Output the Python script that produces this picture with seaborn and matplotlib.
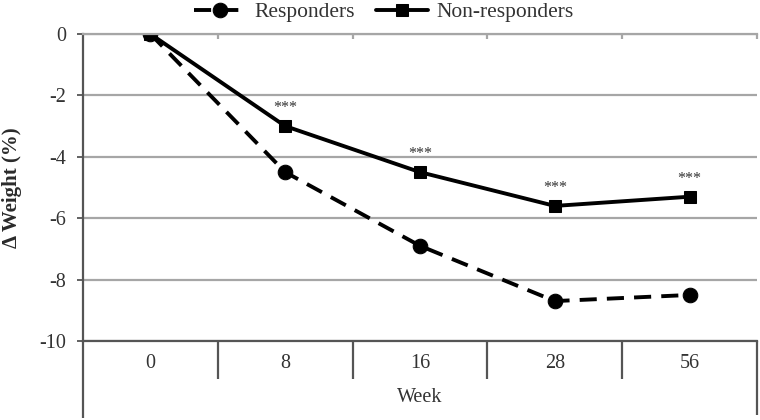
import numpy as np
import pandas as pd
import matplotlib
matplotlib.use("Agg")
import matplotlib.pyplot as plt
import seaborn as sns

weeks = ["0", "8", "16", "28", "56"]
responders = [0.0, -4.5, -6.9, -8.7, -8.5]
non_responders = [0.0, -3.0, -4.5, -5.6, -5.3]
stars = ["", "***", "***", "***", "***"]
yticks = [0, -2, -4, -6, -8, -10]

sns.set_theme(style="white")
plt.rcParams["font.family"] = ["Liberation Serif", "DejaVu Serif"]

W, H = 760, 420
fig = plt.figure(figsize=(W / 100, H / 100), dpi=100)
L, R, T, B = 83, 757, 34, 341
ax = fig.add_axes([L / W, 1 - B / H, (R - L) / W, (B - T) / H])

pos = np.arange(len(weeks))
df = pd.DataFrame({"pos": np.concatenate([pos, pos]),
                   "val": responders + non_responders,
                   "grp": ["Responders"] * len(weeks) + ["Non-responders"] * len(weeks)})

sns.lineplot(data=df[df.grp == "Responders"], x="pos", y="val", ax=ax,
             color="black", lw=2.8, linestyle=(0, (4.4, 2.6)), marker="o",
             markersize=10.5, markeredgecolor="black", label="Responders", sort=False)
sns.lineplot(data=df[df.grp == "Non-responders"], x="pos", y="val", ax=ax,
             color="black", lw=2.8, marker="s", markersize=8.5,
             markeredgecolor="black", label="Non-responders", sort=False)

for p, v, s in zip(pos, non_responders, stars):
    if s:
        ax.annotate(s, (p, v), xytext=(0, 7), textcoords="offset points",
                    ha="center", va="bottom", fontsize=11.5, color="#333333")

ax.set_xlim(-0.5, len(weeks) - 0.5)
ax.set_ylim(-10, 0)
ax.set_yticks(yticks)
ax.set_yticklabels([str(t) for t in yticks])
ax.set_xticks(pos)
ax.set_xticklabels(weeks)
ax.tick_params(axis="x", length=0, pad=9, labelsize=14.5, labelcolor="#333333")
ax.tick_params(axis="y", direction="out", length=4, width=1.3, color="#555555",
               pad=8, labelsize=14.5, labelcolor="#333333", left=True)
ax.set_xlabel("")
ax.set_ylabel("Δ Weight (%)", fontsize=15, fontweight="bold", color="#2a2a2a")
ax.yaxis.set_label_coords(-(L - 22) / (R - L), 0.5)

ax.grid(axis="y", color="#a6a6a6", lw=1.6)
ax.grid(axis="x", visible=False)
ax.spines["right"].set_visible(False)
ax.spines["top"].set_color("#a6a6a6")
ax.spines["top"].set_linewidth(1.6)
for sp in ["left", "bottom"]:
    ax.spines[sp].set_color("#555555")
    ax.spines[sp].set_linewidth(1.6)

xt = ax.get_xaxis_transform()
bounds = pos[:-1] + 0.5
ax.vlines(bounds, -38 / (B - T), 0, transform=xt, clip_on=False, color="#555555", lw=1.6)
ax.vlines([pos[-1] + 0.5], -74 / (B - T), 0, transform=xt, clip_on=False, color="#555555", lw=1.6)
ax.vlines([pos[0] - 0.5], -77 / (B - T), 0, transform=xt, clip_on=False, color="#555555", lw=1.6)
ax.vlines(list(bounds) + [pos[-1] + 0.5], 1 - 5 / (B - T), 1, transform=xt, clip_on=False,
          color="#a6a6a6", lw=1.6)

ax.text(0.5, -(397 - B) / (B - T), "Week", transform=ax.transAxes, ha="center",
        va="center", fontsize=14.5, color="#333333")

leg = ax.legend(loc="center", bbox_to_anchor=(((195 + 573) / 2 - L) / (R - L), 1 + (T - 12) / (B - T)),
                ncol=2, frameon=False, fontsize=15.5, handlelength=2.4, columnspacing=1.0,
                handletextpad=0.4, borderaxespad=0)
for t in leg.get_texts():
    t.set_color("#333333")

fig.savefig("out.png", dpi=100)
